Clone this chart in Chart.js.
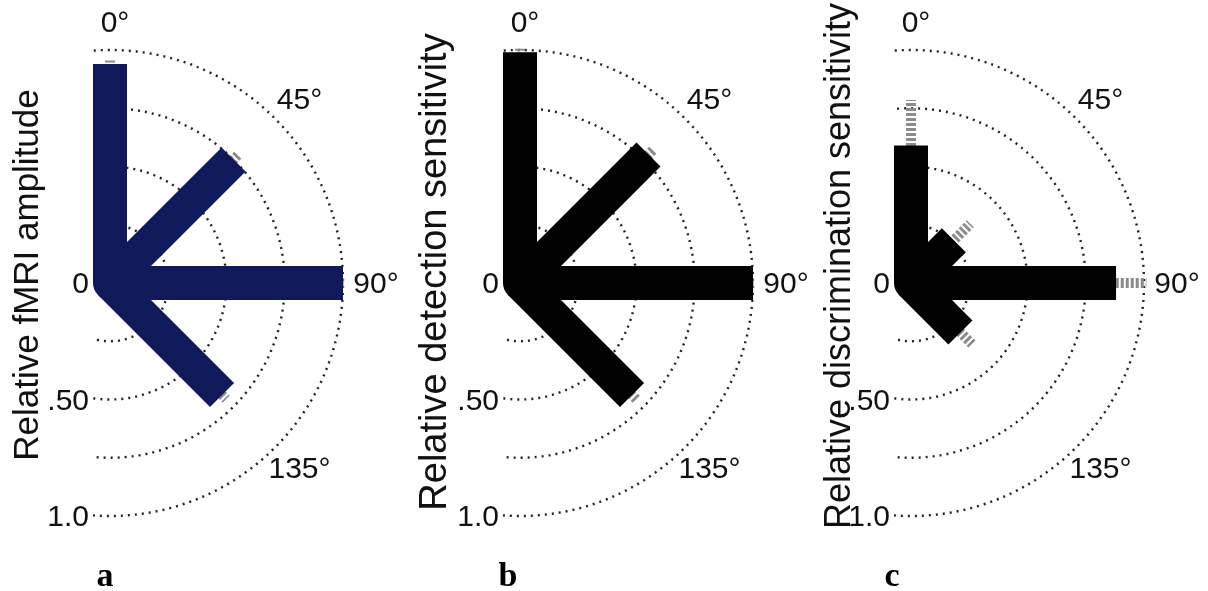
<!DOCTYPE html>
<html>
<head>
<meta charset="utf-8">
<script src="https://cdn.jsdelivr.net/npm/chart.js@4/dist/chart.umd.min.js"></script>
<style>
  body { margin: 0; background: #fff; width: 1208px; height: 591px; position: relative; overflow: hidden; }
  canvas { position: absolute; top: 0; }
  .tag { position: absolute; top: 556px; font: bold 34px "Liberation Serif", "Times New Roman", serif; color: #000; transform: translateX(-50%); }
</style>
</head>
<body>
<canvas id="chartA" width="420" height="560" style="left:0px"></canvas>
<canvas id="chartB" width="420" height="560" style="left:410px"></canvas>
<canvas id="chartC" width="420" height="560" style="left:801px"></canvas>
<div class="tag" style="left:105px">a</div>
<div class="tag" style="left:508px">b</div>
<div class="tag" style="left:892px">c</div>
<script>
// orientations (deg, 0 = up, clockwise)
const angles = [0, 45, 90, 135];
const angleLabels = ['0°', '45°', '90°', '135°'];
const gridRadii = [0.25, 0.5, 0.75, 1.0];
const radialTicks = [0, 0.5, 1.0];
const radialTickLabels = ['0', '.50', '1.0'];

// a: fMRI amplitude
const fmriAmp = [0.94, 0.75, 1.0, 0.68];
const fmriErr = [0.015, 0.03, 0.01, 0.025];
// b: detection sensitivity
const detectSens = [0.99, 0.78, 1.0, 0.68];
const detectErr = [0.015, 0.03, 0.01, 0.03];
// c: discrimination sensitivity
const discrimSens = [0.59, 0.26, 0.88, 0.30];
const discrimErr = [0.195, 0.10, 0.13, 0.07];

const R = 233; // px per unit radius

function toXY(r, deg) {
  const t = deg * Math.PI / 180;
  return { x: r * Math.sin(t), y: r * Math.cos(t) };
}

const polarDecor = {
  id: 'polarDecor',
  beforeDatasetsDraw(chart, args, opts) {
    const { ctx, scales: { x, y } } = chart;
    const cx = x.getPixelForValue(0), cy = y.getPixelForValue(0);
    ctx.save();
    ctx.beginPath();
    ctx.rect(cx - 17, 0, chart.width, chart.height);
    ctx.clip();
    ctx.strokeStyle = '#222';
    ctx.lineWidth = 2.4;
    ctx.setLineDash([2, 5]);
    gridRadii.forEach(r => {
      const rx = x.getPixelForValue(r) - cx;
      const ry = cy - y.getPixelForValue(r);
      ctx.beginPath();
      ctx.ellipse(cx, cy, rx, ry, 0, -Math.PI / 2 - 0.4, Math.PI / 2 + 0.4);
      ctx.stroke();
    });
    ctx.restore();
  },
  afterDatasetsDraw(chart, args, opts) {
    const { ctx, scales: { x, y } } = chart;
    const cx = x.getPixelForValue(0);
    ctx.save();
    ctx.fillStyle = '#111';
    ctx.font = '30px "Liberation Sans", Arial, sans-serif';
    ctx.textBaseline = 'middle';
    // orientation labels
    ctx.textAlign = 'center';
    angles.forEach((a, i) => {
      const p = toXY(1.12, a);
      ctx.fillText(angleLabels[i], x.getPixelForValue(p.x) + 5, y.getPixelForValue(p.y) + 2);
    });
    // radial ticks, down the left side
    ctx.textAlign = 'right';
    radialTicks.forEach((r, i) => {
      ctx.fillText(radialTickLabels[i], cx - 21, y.getPixelForValue(-r) + 2);
    });
    // axis title
    ctx.font = opts.titleSize + 'px "Liberation Sans", Arial, sans-serif';
    ctx.textAlign = 'center';
    ctx.translate(opts.titleX, opts.titleY);
    ctx.rotate(-Math.PI / 2);
    ctx.fillText(opts.title, 0, 0);
    ctx.restore();
  }
};

function makePanel(canvasId, values, errors, color, title, titleX, titleY, titleSize) {
  const ox = 110, oy = 283, w = 420, h = 560;
  const datasets = [];
  values.forEach((v, i) => {
    datasets.push({
      data: [{ x: 0, y: 0 }, toXY(v, angles[i])],
      showLine: true,
      borderColor: color,
      borderWidth: 34,
      borderCapStyle: 'butt',
      pointRadius: 0
    });
  });
  datasets.push({
    data: [{ x: 0, y: 0 }],
    pointRadius: 17,
    pointBorderWidth: 0,
    backgroundColor: color
  });
  values.forEach((v, i) => {
    datasets.push({
      data: [toXY(v - errors[i], angles[i]), toXY(v + errors[i], angles[i])],
      showLine: true,
      borderColor: '#8c8c8c',
      borderWidth: 10,
      borderDash: [3, 2],
      borderCapStyle: 'butt',
      pointRadius: 0
    });
  });
  return new Chart(document.getElementById(canvasId), {
    type: 'scatter',
    data: { datasets },
    options: {
      responsive: false,
      animation: false,
      layout: { padding: 0, autoPadding: false },
      plugins: {
        legend: { display: false },
        tooltip: { enabled: false },
        polarDecor: { title, titleX, titleY, titleSize }
      },
      scales: {
        x: { type: 'linear', display: false, min: -ox / R, max: (w - ox) / R },
        y: { type: 'linear', display: false, min: -(h - oy) / R, max: oy / R }
      }
    },
    plugins: [polarDecor]
  });
}

makePanel('chartA', fmriAmp, fmriErr, '#101a5a', 'Relative fMRI amplitude', 28, 275, 35);
makePanel('chartB', detectSens, detectErr, '#000000', 'Relative detection sensitivity', 26, 272, 38);
makePanel('chartC', discrimSens, discrimErr, '#000000', 'Relative discrimination sensitivity', 39, 266, 36);
</script>
</body>
</html>
